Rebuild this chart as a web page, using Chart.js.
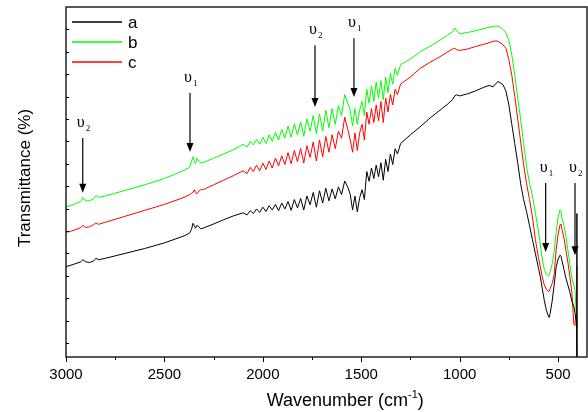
<!DOCTYPE html>
<html>
<head>
<meta charset="utf-8">
<script src="https://cdn.jsdelivr.net/npm/chart.js@4"></script>
<style>
  html, body { margin: 0; padding: 0; background: #fff; }
  #wrap { width: 588px; height: 412px; }
</style>
</head>
<body>
<div id="wrap"><canvas id="ftir" width="588" height="412"></canvas></div>
<script>
// wavenumbers (cm-1), shared by the three spectra
const wavenumber = [
  3000, 2960, 2925, 2914, 2900, 2880, 2860, 2848, 2835, 2800, 2700, 2600, 2500, 2400,
  2372, 2362, 2355, 2348, 2342, 2335, 2325, 2315, 2300, 2250, 2200, 2150,
  2100, 2080, 2064, 2048, 2032, 2016, 2000, 1984, 1968, 1952, 1936, 1920, 1904, 1888,
  1872, 1856, 1840, 1824, 1808, 1792, 1776, 1760, 1744, 1728, 1712, 1696, 1680, 1664,
  1648, 1632, 1616, 1600, 1584, 1568, 1556, 1544, 1532, 1520, 1508, 1496, 1484, 1472,
  1460, 1448, 1436, 1424, 1412, 1400, 1388, 1376, 1364, 1352, 1340, 1328, 1316, 1300,
  1250, 1200, 1150, 1100, 1060, 1035, 1025, 1015, 1000, 960, 920, 880, 850, 830, 815,
  805, 795, 780, 765, 750, 735, 720, 705, 690, 675, 660, 645, 630, 615, 600, 590, 580,
  570, 560, 550, 545, 540, 530, 520, 510, 500, 490, 485, 480, 470, 460, 450, 440, 430,
  420, 414, 410, 406, 404.5, 404
];

const seriesA = [
  25.8, 26.5, 27.2, 27.8, 27.2, 27.0, 27.4, 28.2, 27.8, 28.2, 29.6, 31.0, 32.6, 34.6,
  35.4, 36.5, 38.2, 37.5, 36.8, 37.6, 37.2, 36.6, 36.9, 38.0, 39.2, 40.3,
  41.2, 40.6, 41.8, 41.0, 42.3, 41.3, 42.8, 41.6, 43.2, 42.0, 43.6, 41.8, 44.0, 42.3,
  44.4, 41.9, 45.0, 42.6, 45.3, 42.0, 46.0, 43.5, 47.0, 42.8, 47.5, 44.0, 48.2, 44.6,
  48.0, 45.2, 48.6, 46.4, 50.3, 48.5, 46.5, 42.0, 46.0, 41.5, 45.5, 47.8, 45.0, 53.0,
  50.2, 54.0, 51.0, 54.8, 51.5, 55.5, 50.5, 56.5, 53.0, 58.0, 55.0, 59.5, 58.0, 61.0,
  63.5, 65.8, 68.3, 70.5, 72.3, 73.6, 74.6, 74.9, 74.6, 75.2, 76.0, 77.0, 77.6, 77.2, 78.2,
  78.7, 78.4, 77.8, 76.0, 72.0, 66.5, 61.0, 55.5, 49.5, 45.0, 41.5, 37.5, 33.5, 29.5, 25.5, 22.9, 19.5,
  16.2, 13.5, 11.8, 11.3, 12.5, 16.0, 20.5, 25.5, 28.0, 29.1, 28.8, 27.5, 25.0, 22.5, 20.5, 18.5, 16.0,
  14.5, 12.6, 11.0, 10.5, 41.0, 0
];

const seriesB = [
  42.9, 43.6, 44.4, 45.6, 44.6, 44.6, 45.2, 46.2, 45.6, 46.0, 47.6, 49.2, 51.0, 53.3,
  54.2, 56.0, 57.2, 55.8, 55.2, 56.8, 56.0, 55.4, 55.6, 56.8, 58.0, 59.2,
  60.8, 60.0, 61.6, 60.6, 62.2, 60.8, 62.8, 61.0, 63.5, 61.6, 64.2, 62.0, 65.0, 62.5,
  66.0, 62.8, 66.6, 63.5, 67.2, 63.0, 68.0, 64.5, 69.0, 63.8, 69.5, 64.5, 70.5, 65.5,
  71.0, 66.5, 71.8, 69.0, 75.0, 72.5, 70.5, 66.0, 71.0, 66.5, 70.5, 73.0, 69.0, 76.5,
  72.5, 77.5, 73.0, 78.5, 74.0, 79.0, 73.5, 80.0, 75.5, 81.0, 78.0, 82.5, 80.5, 83.5,
  85.2, 87.2, 88.8, 90.5, 92.0, 93.0, 94.0, 93.2, 92.4, 92.7, 93.2, 93.8, 94.2, 94.4, 94.6,
  94.5, 94.3, 93.6, 92.6, 90.5, 86.3, 80.5, 74.0, 67.8, 61.0, 54.5, 49.5, 46.0, 41.0, 36.0, 32.0, 28.0,
  25.0, 23.5, 23.1, 23.3, 24.5, 26.5, 30.0, 35.5, 40.0, 42.0, 41.5, 39.5, 37.5, 34.5, 30.5, 26.5, 22.5,
  20.5, 19.0, 15.0, 10.0, 8.0, null
];

const seriesC = [
  35.6, 36.2, 37.0, 37.6, 37.0, 37.2, 37.8, 38.3, 37.9, 38.5, 40.2, 41.9, 43.6, 45.6,
  46.4, 46.8, 47.0, 47.8, 46.9, 46.6, 47.4, 47.8, 47.9, 49.2, 50.5, 51.8,
  53.2, 52.4, 54.2, 53.0, 54.8, 53.2, 55.4, 53.6, 56.0, 54.0, 56.8, 54.6, 57.5, 55.0,
  58.4, 55.2, 59.0, 55.8, 59.6, 55.4, 60.4, 57.0, 61.4, 56.0, 62.0, 57.2, 63.0, 58.5,
  63.5, 59.5, 64.5, 62.5, 68.5, 65.0, 62.0, 58.5, 64.0, 59.0, 64.0, 66.5, 62.0, 70.0,
  66.5, 71.0, 67.0, 72.0, 67.5, 73.0, 67.0, 74.0, 70.0, 75.0, 72.0, 76.5, 75.0, 78.0,
  80.0, 82.5, 84.2, 85.8, 87.2, 88.0, 88.2, 87.8, 87.6, 88.0, 88.7, 89.3, 89.8, 90.2, 90.3,
  90.2, 89.8, 89.2, 88.2, 85.0, 80.5, 74.5, 68.0, 61.5, 55.0, 49.5, 45.0, 40.0, 33.5, 28.5, 25.8, 22.8,
  20.6, 19.4, 18.7, 18.8, 19.6, 21.0, 23.5, 30.5, 35.0, 37.8, 38.0, 36.5, 34.0, 30.5, 27.0, 23.0, 18.5,
  9.5, 9.0, 12.0, 9.0, 26.0, null
];

const seriesLabels = ['a', 'b', 'c'];
const seriesColors = ['#000000', '#00ff00', '#ff0000'];
const xTickValues = [3000, 2500, 2000, 1500, 1000, 500];

// band markers: position, arrow top / arrow tip (in y units), subscript
const bandWn = [2915, 2370, 1735, 1537, 563, 414];
const bandTop = [62.6, 75.4, 89.1, 91.1, 49.7, 49.7];
const bandTip = [46.9, 58.6, 71.4, 74.3, 30.0, 29.1];
const bandSub = ['2', '1', '2', '1', '1', '2'];

function toPoints(vals) {
  return wavenumber.map((x, i) => ({ x: x, y: vals[i] })).filter(p => p.y !== null);
}

const framePlugin = {
  id: 'frame',
  afterDraw(chart) {
    const ctx = chart.ctx;
    const a = chart.chartArea;
    const xs = chart.scales.x, ys = chart.scales.y;
    ctx.save();
    // box
    ctx.strokeStyle = '#222';
    ctx.lineWidth = 1.5;
    ctx.strokeRect(a.left, a.top, a.right - a.left, a.bottom - a.top);
    // x ticks, major and minor
    ctx.lineWidth = 1;
    ctx.strokeStyle = '#000';
    for (let v = 3000; v >= 500; v -= 250) {
      const px = Math.round(xs.getPixelForValue(v)) + 0.5;
      const len = v % 500 === 0 ? 5 : 3;
      ctx.beginPath();
      ctx.moveTo(px, a.bottom);
      ctx.lineTo(px, a.bottom + len);
      ctx.stroke();
    }
    // y minor ticks (no labels)
    for (let v = 100 - 6.4; v > 0; v -= 6.4) {
      const py = Math.round(ys.getPixelForValue(v)) + 0.5;
      ctx.beginPath();
      ctx.moveTo(a.left, py);
      ctx.lineTo(a.left + 3, py);
      ctx.stroke();
    }

    // band arrows and labels
    ctx.fillStyle = '#000';
    for (let i = 0; i < bandWn.length; i++) {
      const px = xs.getPixelForValue(bandWn[i]);
      const y1 = ys.getPixelForValue(bandTop[i]);
      const y2 = ys.getPixelForValue(bandTip[i]);
      ctx.lineWidth = 1.2;
      ctx.beginPath();
      ctx.moveTo(px, y1);
      ctx.lineTo(px, y2 - 6);
      ctx.stroke();
      ctx.beginPath();
      ctx.moveTo(px - 3.5, y2 - 9);
      ctx.lineTo(px + 3.5, y2 - 9);
      ctx.lineTo(px, y2);
      ctx.closePath();
      ctx.fill();
      ctx.font = '16px "Liberation Serif"';
      ctx.textAlign = 'center';
      ctx.textBaseline = 'alphabetic';
      ctx.fillText('\u03C5', px - 2, y1 - 11);
      ctx.font = '9px "Liberation Serif"';
      ctx.textAlign = 'left';
      ctx.fillText(bandSub[i], px + 3, y1 - 7);
    }

    // legend, top-left inside the box
    chart.data.datasets.forEach((ds, i) => {
      const ly = a.top + 15 + i * 20;
      ctx.strokeStyle = ds.borderColor;
      ctx.lineWidth = 1.5;
      ctx.beginPath();
      ctx.moveTo(a.left + 6, ly);
      ctx.lineTo(a.left + 56, ly);
      ctx.stroke();
      ctx.fillStyle = '#000';
      ctx.font = '17px "Liberation Sans"';
      ctx.textAlign = 'left';
      ctx.textBaseline = 'middle';
      ctx.fillText(ds.label, a.left + 62, ly + 1);
    });

    // axis titles
    ctx.fillStyle = '#000';
    ctx.textBaseline = 'alphabetic';
    ctx.font = '18px "Liberation Sans"';
    const main = 'Wavenumber (cm';
    const wMain = ctx.measureText(main).width;
    ctx.font = '11px "Liberation Sans"';
    const wSup = ctx.measureText('-1').width;
    ctx.font = '18px "Liberation Sans"';
    const wEnd = ctx.measureText(')').width;
    const total = wMain + wSup + wEnd;
    let tx = a.left + (a.right - a.left) * 0.536 - total / 2;
    const ty = 406;
    ctx.textAlign = 'left';
    ctx.fillText(main, tx, ty);
    ctx.font = '11px "Liberation Sans"';
    ctx.fillText('-1', tx + wMain, ty - 8);
    ctx.font = '18px "Liberation Sans"';
    ctx.fillText(')', tx + wMain + wSup, ty);

    ctx.translate(25, (a.top + a.bottom) / 2 - 4);
    ctx.rotate(-Math.PI / 2);
    ctx.font = '17px "Liberation Sans"';
    ctx.textAlign = 'center';
    ctx.textBaseline = 'middle';
    ctx.fillText('Transmittance (%)', 0, 0);
    ctx.restore();
  }
};

new Chart(document.getElementById('ftir').getContext('2d'), {
  type: 'line',
  data: {
    datasets: [seriesA, seriesB, seriesC].map((vals, i) => ({
      label: seriesLabels[i],
      data: toPoints(vals),
      borderColor: seriesColors[i],
      backgroundColor: seriesColors[i],
      borderWidth: 1,
      pointRadius: 0,
      tension: 0,
      fill: false,
    })),
  },
  options: {
    responsive: false,
    animation: false,
    layout: { padding: { left: 66, right: 1, top: 7, bottom: 19 } },
    plugins: { legend: { display: false }, tooltip: { enabled: false } },
    scales: {
      x: {
        type: 'linear',
        reverse: true,
        min: 353,
        max: 3000,
        grid: { display: false, drawTicks: false },
        border: { display: false },
        afterBuildTicks: (axis) => {
          axis.ticks = xTickValues.map((v) => ({ value: v }));
        },
        ticks: {
          autoSkip: false,
          maxRotation: 0,
          padding: 9,
          color: '#000',
          font: { family: 'Liberation Sans', size: 15 },
          callback: (value) => String(value),
        },
      },
      y: {
        display: false,
        min: 0,
        max: 100,
      },
    },
  },
  plugins: [framePlugin],
});
</script>
</body>
</html>
